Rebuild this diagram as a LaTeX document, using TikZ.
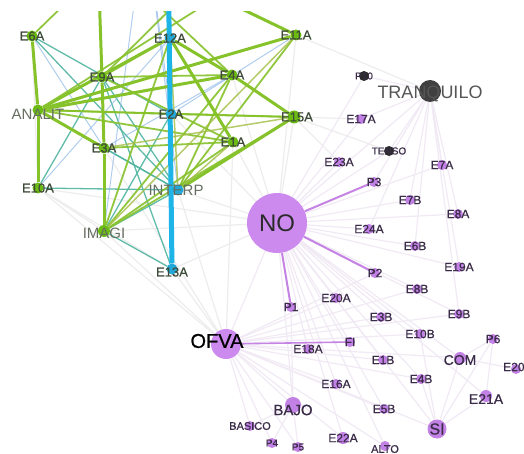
\documentclass[tikz,border=0pt]{standalone}
\usepackage{fontspec}
\setmainfont{Liberation Sans}
\newfontfamily\boldish[FakeBold=0.6]{Liberation Sans}
\usetikzlibrary{backgrounds}
\definecolor{ngreen}{HTML}{6CBB12}
\definecolor{egreen}{HTML}{86C22A}
\definecolor{eolive}{HTML}{A3BE45}
\definecolor{eteal}{HTML}{4FB5A0}
\definecolor{eblue}{HTML}{8FB8E8}
\definecolor{ecyan}{HTML}{1DB4E8}
\definecolor{ncyan}{HTML}{22A8D8}
\definecolor{npurple}{HTML}{B86BE0}
\definecolor{nbig}{HTML}{CD8AEE}
\definecolor{ndark}{HTML}{2B2B2B}
\definecolor{epurple}{HTML}{C583E4}
\definecolor{epink}{HTML}{F1EAF5}
\definecolor{egrey}{HTML}{EDEDED}
\definecolor{tgreen}{HTML}{3E4A38}
\definecolor{tpurple}{HTML}{3A2C48}
\begin{document}
\begin{tikzpicture}[x=1pt,y=-1pt,
  gdot/.style={circle,fill=ngreen,inner sep=0pt,minimum size=11pt},
  cdot/.style={circle,fill=ncyan,inner sep=0pt,minimum size=11pt},
  pdot/.style={circle,fill=npurple,fill opacity=0.85,inner sep=0pt,minimum size=10pt},
  kdot/.style={circle,fill=ndark,inner sep=0pt,minimum size=10pt},
  glbl/.style={text=tgreen,inner sep=0pt,font=\boldish\fontsize{13}{13}\selectfont},
  gbig/.style={text=tgreen!80,inner sep=0pt,font=\fontsize{15}{15}\selectfont},
  plbl/.style={text=tpurple,inner sep=0pt,font=\boldish\fontsize{12}{12}\selectfont},
  gthick/.style={draw=egreen,line width=3pt},
  gmid/.style={draw=egreen,line width=1.8pt,opacity=0.9},
  golive/.style={draw=eolive,line width=1.5pt,opacity=0.8},
  gteal/.style={draw=eteal,line width=1.3pt,opacity=0.9},
  gblue/.style={draw=eblue,line width=1pt,opacity=0.7},
  cthick/.style={draw=ecyan,line width=5pt},
  pale/.style={draw=egrey,line width=1.2pt},
  pink/.style={draw=epink,line width=1.2pt},
  pstrong/.style={draw=epurple,line width=2pt},
]
\useasboundingbox (0,0) rectangle (524,454);

% ---------- green cluster ----------
\node[gdot] (E6A) at (32,36) {};
\node[cdot] (E12A) at (170,38) {};
\node[gdot] (E11A) at (296,35) {};
\node[gdot] (E9A) at (102,77) {};
\node[gdot] (E4A) at (232,75) {};
\node[gdot] (ANALIT) at (38,110) {};
\node[cdot] (E2A) at (171,114) {};
\node[gdot,minimum size=13pt] (E15A) at (294,117) {};
\node[gdot] (E3A) at (104,148) {};
\node[gdot] (E1A) at (233,142) {};
\node[gdot] (E10A) at (38,188) {};
\node[cdot] (INTERP) at (178,190) {};
\node[gdot,minimum size=12pt] (IMAGI) at (104,231) {};
\node[cdot] (E13A) at (172,269) {};

% nodes outside the frame, reached by edges that leave the top
\coordinate (U1) at (98,-40);
\coordinate (U2) at (140,-40);
\coordinate (U3) at (110,-40);
\coordinate (U4) at (168,-60);
\coordinate (U5) at (220,-40);
\coordinate (U6) at (260,-30);
\coordinate (U7) at (150,-40);

% ---------- purple cluster ----------
\node[circle,fill=nbig,inner sep=0pt,minimum size=60pt] (NO) at (277,223) {};
\node[circle,fill=nbig,inner sep=0pt,minimum size=30pt] (OFVA) at (226,344) {};
\node[kdot,minimum size=22pt,fill=ndark!90] (TRANQUILO) at (430,91) {};
\node[kdot] (P10) at (364,76) {};
\node[kdot] (TENSO) at (389,151) {};
\node[pdot] (E17A) at (361,119) {};
\node[pdot] (E23A) at (339,162) {};
\node[pdot] (E7A) at (442,165) {};
\node[pdot] (P3) at (374,182) {};
\node[pdot] (E7B) at (410,200) {};
\node[pdot] (E8A) at (458,214) {};
\node[pdot] (E24A) at (369,229) {};
\node[pdot] (E6B) at (415,246) {};
\node[pdot] (E19A) at (459,267) {};
\node[pdot] (P2) at (375,273) {};
\node[pdot] (E20A) at (336,298) {};
\node[pdot] (E8B) at (417,289) {};
\node[pdot] (P1) at (291,307) {};
\node[pdot] (E3B) at (381,317) {};
\node[pdot] (E9B) at (459,314) {};
\node[pdot] (E10B) at (420,334) {};
\node[pdot] (P6) at (493,339) {};
\node[pdot] (FI) at (350,342) {};
\node[pdot] (E18A) at (308,349) {};
\node[pdot,minimum size=12pt] (COM) at (460,358) {};
\node[pdot] (E20B) at (516,369) {};
\node[pdot] (E1B) at (383,360) {};
\node[pdot] (E4B) at (421,379) {};
\node[pdot] (E16A) at (336,384) {};
\node[pdot,minimum size=12pt] (E21A) at (486,396) {};
\node[pdot,minimum size=16pt] (BAJO) at (293,405) {};
\node[pdot] (E5B) at (384,409) {};
\node[pdot,minimum size=19pt] (SI) at (437,429) {};
\node[pdot] (BASICO) at (250,426) {};
\node[pdot,minimum size=12pt] (E22A) at (343,438) {};
\node[pdot] (ALTO) at (385,446) {};
\node[pdot] (P4) at (272,443) {};
\node[pdot] (P5) at (298,447) {};

\begin{pgfonlayer}{background}
\fill[white] (0,0) rectangle (524,454);
\begin{scope}
\clip (0,12) rectangle (524,454);
% faint links between the clusters
\foreach \a/\b in {E10A/OFVA,E10A/E13A,IMAGI/OFVA,E13A/OFVA,E13A/NO,INTERP/NO,
  E1A/NO,E15A/NO,E2A/NO,IMAGI/NO,E3A/OFVA,E10A/NO,E11A/TRANQUILO,E15A/E17A,
  E15A/TENSO,E15A/E23A,E4A/NO,E1A/OFVA,INTERP/OFVA,E11A/NO,E6A/E10A,E10A/IMAGI}
  \draw[pale] (\a) -- (\b);
% faint links inside the purple cluster
\foreach \b in {E17A,E23A,E7A,E7B,E8A,E24A,E6B,E19A,E20A,E8B,E3B,E9B,E10B,FI,
  E18A,COM,E1B,E4B,E16A,E21A,E5B,SI,E22A,ALTO,TENSO,P10,TRANQUILO,OFVA,BAJO}
  \draw[pink] (NO) -- (\b);
\foreach \b in {E20A,E3B,E1B,E16A,E5B,E22A,E10B,E4B,COM,BAJO,P4,P5,BASICO,SI,E8B,E9B,P2,ALTO}
  \draw[pink] (OFVA) -- (\b);
\foreach \b in {E7A,P3,E24A,E17A,P10,E7B,E8A,TENSO,E6B,E19A,E9B}
  \draw[pink] (TRANQUILO) -- (\b);
\foreach \a/\b in {SI/E10B,SI/P6,SI/COM,SI/E4B,SI/E21A,BAJO/P4,BAJO/P5,BAJO/BASICO,
  COM/P6,COM/E20B,E21A/P6,P1/BAJO}
  \draw[pink] (\a) -- (\b);
% purple ties
\draw[pstrong] (NO) -- (P3);
\draw[pstrong] (NO) -- (P2);
\draw[pstrong] (NO) -- (P1);
\draw[pstrong,line width=1.6pt] (OFVA) -- (FI);
% green cluster links
\foreach \a/\b in {E6A/E2A,E9A/E13A,IMAGI/E13A,E3A/INTERP,ANALIT/INTERP,
  E10A/INTERP,IMAGI/INTERP,IMAGI/E2A,E6A/INTERP,E9A/INTERP,E10A/E9A,E2A/E13A}
  \draw[gteal] (\a) -- (\b);
\foreach \a/\b in {U7/E2A,U2/IMAGI,E2A/E11A,E10A/E12A,E6A/E3A,E3A/E4A,U7/INTERP}
  \draw[gblue] (\a) -- (\b);
\foreach \a/\b in {ANALIT/E2A,ANALIT/E15A,ANALIT/E1A,IMAGI/E15A,IMAGI/E1A,IMAGI/E4A,
  IMAGI/E12A,E9A/E1A,E9A/E4A,E11A/INTERP,E4A/INTERP,E2A/E15A,E12A/E9A,U5/E9A,U6/ANALIT,
  U3/E4A,E6A/U3,E3A/E1A}
  \draw[gmid] (\a) -- (\b);
\foreach \a/\b in {E11A/IMAGI,E1A/INTERP,E3A/E15A,E12A/INTERP}
  \draw[golive] (\a) -- (\b);
\foreach \a/\b in {ANALIT/E11A,ANALIT/E12A,ANALIT/E4A,E12A/E1A,E4A/E15A,E15A/INTERP,
  ANALIT/E3A,U1/E9A,E9A/E3A,E3A/IMAGI,E6A/ANALIT,ANALIT/E10A,U2/E11A,E12A/E4A}
  \draw[gthick] (\a) -- (\b);
\draw[cthick] (U4) -- (E13A);
\end{scope}
\end{pgfonlayer}

% ---------- labels ----------
\node[glbl] (lE6A) at (E6A) {E6A};
\node[glbl] (lE12A) at (E12A) {E12A};
\node[glbl] (lE11A) at (E11A) {E11A};
\node[glbl] (lE9A) at (E9A) {E9A};
\node[glbl] (lE4A) at (E4A) {E4A};
\node[gbig] (lANALIT) at ([yshift=-4pt]ANALIT) {ANALIT};
\node[glbl] (lE2A) at (E2A) {E2A};
\node[glbl] (lE15A) at ([xshift=3pt]E15A) {E15A};
\node[glbl] (lE3A) at (E3A) {E3A};
\node[glbl] (lE1A) at (E1A) {E1A};
\node[glbl] (lE10A) at (E10A) {E10A};
\node[gbig] (lINTERP) at ([xshift=-2pt]INTERP) {INTERP};
\node[gbig] (lIMAGI) at ([yshift=-2pt]IMAGI) {IMAGI};
\node[glbl] (lE13A) at ([yshift=-3pt]E13A) {E13A};

\node[text=ndark,inner sep=0pt,font=\fontsize{24}{24}\selectfont] (lNO) at (NO) {NO};
\node[text=black,inner sep=0pt,font=\boldish\fontsize{20}{20}\selectfont] (lOFVA) at (217,341) {OFVA};
\node[text=ndark!80,inner sep=0pt,font=\fontsize{18}{18}\selectfont] (lTRANQUILO) at ([yshift=-3pt]TRANQUILO) {TRANQUILO};
\node[plbl,font=\boldish\fontsize{10}{10}\selectfont] (lP10) at (P10) {P10};
\node[plbl,font=\boldish\fontsize{10}{10}\selectfont] (lTENSO) at (TENSO) {TENSO};
\foreach \n in {E17A,E23A,E7A,P3,E7B,E8A,E24A,E6B,E19A,P2,E20A,E8B,P1,E3B,E9B,
  E10B,P6,FI,E18A,E1B,E4B,E16A,E5B,E22A}
  \node[plbl] (l\n) at (\n) {\n};
\node[plbl,font=\boldish\fontsize{14}{14}\selectfont] (lCOM) at ([yshift=-2pt]COM) {COM};
\node[plbl,anchor=west] (lE20B) at (503,367) {E20B};
\node[plbl,font=\boldish\fontsize{14}{14}\selectfont] (lE21A) at ([yshift=-3pt]E21A) {E21A};
\node[plbl,font=\boldish\fontsize{15}{15}\selectfont] (lBAJO) at ([yshift=-5pt]BAJO) {BAJO};
\node[plbl,font=\boldish\fontsize{16}{16}\selectfont] (lSI) at (SI) {SI};
\node[plbl,font=\boldish\fontsize{11}{11}\selectfont] (lBASICO) at (BASICO) {BASICO};
\node[plbl,font=\boldish\fontsize{11}{11}\selectfont] (lALTO) at ([yshift=-3pt]ALTO) {ALTO};
\node[plbl,font=\boldish\fontsize{10}{10}\selectfont] (lP4) at (P4) {P4};
\node[plbl,font=\boldish\fontsize{10}{10}\selectfont] (lP5) at (P5) {P5};
\end{tikzpicture}
\end{document}
